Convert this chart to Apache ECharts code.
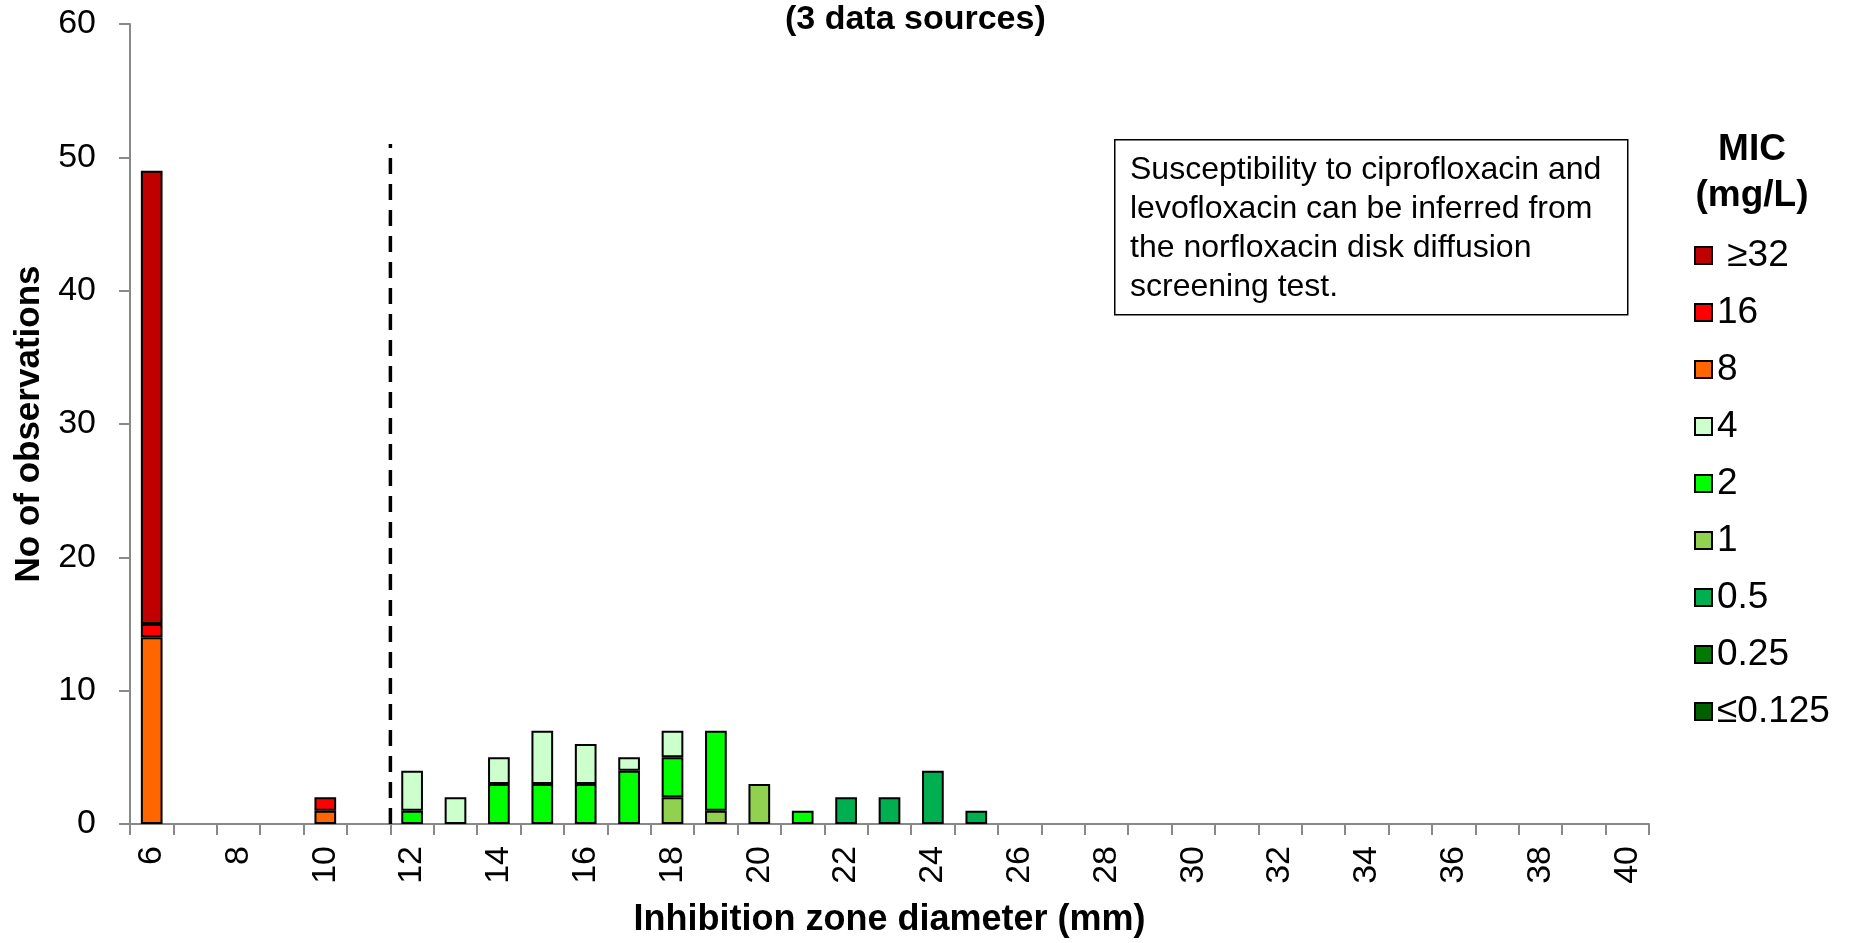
<!DOCTYPE html>
<html>
<head>
<meta charset="utf-8">
<script src="https://cdn.jsdelivr.net/npm/echarts@6/dist/echarts.min.js"></script>
<style>html,body{margin:0;padding:0;background:#fff}#c{width:1852px;height:943px}</style>
</head>
<body>
<div id="c"></div>
<script>
// ---- data ----
const categories = ['6','7','8','9','10','11','12','13','14','15','16','17','18','19','20','21','22','23','24','25','26','27','28','29','30','31','32','33','34','35','36','37','38','39','40'];
const micNames = ['≤0.125','0.25','0.5','1','2','4','8','16','≥32'];   // stacking order bottom -> top
const micColors = ['#006000','#007A00','#00B050','#92D050','#00FF00','#CCFFCC','#FF6600','#FF0000','#C00000'];
//                     6 7 8 9 10 11 12 13 14 15 16 17 18 19 20 21 22 23 24 25 26-40
const mic_le0125 = [0,0,0,0,0, 0, 0, 0, 0, 0, 0, 0, 0, 0, 0, 0, 0, 0, 0, 0, 0,0,0,0,0,0,0,0,0,0,0,0,0,0,0];
const mic_025    = [0,0,0,0,0, 0, 0, 0, 0, 0, 0, 0, 0, 0, 0, 0, 0, 0, 0, 0, 0,0,0,0,0,0,0,0,0,0,0,0,0,0,0];
const mic_05     = [0,0,0,0,0, 0, 0, 0, 0, 0, 0, 0, 0, 0, 0, 0, 2, 2, 4, 1, 0,0,0,0,0,0,0,0,0,0,0,0,0,0,0];
const mic_1      = [0,0,0,0,0, 0, 0, 0, 0, 0, 0, 0, 2, 1, 3, 0, 0, 0, 0, 0, 0,0,0,0,0,0,0,0,0,0,0,0,0,0,0];
const mic_2      = [0,0,0,0,0, 0, 1, 0, 3, 3, 3, 4, 3, 6, 0, 1, 0, 0, 0, 0, 0,0,0,0,0,0,0,0,0,0,0,0,0,0,0];
const mic_4      = [0,0,0,0,0, 0, 3, 2, 2, 4, 3, 1, 2, 0, 0, 0, 0, 0, 0, 0, 0,0,0,0,0,0,0,0,0,0,0,0,0,0,0];
const mic_8      = [14,0,0,0,1,0, 0, 0, 0, 0, 0, 0, 0, 0, 0, 0, 0, 0, 0, 0, 0,0,0,0,0,0,0,0,0,0,0,0,0,0,0];
const mic_16     = [1,0,0,0,1, 0, 0, 0, 0, 0, 0, 0, 0, 0, 0, 0, 0, 0, 0, 0, 0,0,0,0,0,0,0,0,0,0,0,0,0,0,0];
const mic_ge32   = [34,0,0,0,0,0, 0, 0, 0, 0, 0, 0, 0, 0, 0, 0, 0, 0, 0, 0, 0,0,0,0,0,0,0,0,0,0,0,0,0,0,0];
const micValues = [mic_le0125, mic_025, mic_05, mic_1, mic_2, mic_4, mic_8, mic_16, mic_ge32];
const yTicks = [0, 60, 10]; // min, max, interval
const breakpointX = 11.5;   // zone diameter breakpoint (between 11 and 12 mm)
const breakpointTop = 51;
const titleText = '(3 data sources)';
const noteText = 'Susceptibility to ciprofloxacin and\nlevofloxacin can be inferred from\nthe norfloxacin disk diffusion\nscreening test.';

// ---- chart ----
const FF = '"Liberation Sans", Arial, Helvetica, sans-serif';
const AX = '#898989';
const chart = echarts.init(document.getElementById('c'), null, {renderer: 'canvas'});

const barSeries = micNames.map((n, i) => ({
  name: n, type: 'bar', stack: 'mic', xAxisIndex: 0, yAxisIndex: 0,
  barWidth: '50%',
  itemStyle: {color: micColors[i], borderColor: '#000', borderWidth: 2},
  emphasis: {disabled: true},
  data: micValues[i].map(v => v === 0 ? '-' : v)
}));

const option = {
  animation: false,
  textStyle: {fontFamily: FF},
  title: {
    text: titleText, left: 785, top: 3, padding: 0,
    textStyle: {fontFamily: FF, fontSize: 34, fontWeight: 'bold', color: '#000'}
  },
  grid: {left: 130, right: 203, top: 24, bottom: 115, containLabel: false},
  legend: {
    orient: 'vertical', left: 1689, top: 232, itemGap: 20,
    itemWidth: 17, itemHeight: 17, icon: 'rect',
    data: micNames.slice().reverse(),
    formatter: n => n === '≥32' ? ' ' + n : n,
    textStyle: {fontFamily: FF, fontSize: 37, color: '#000'},
    selectedMode: false
  },
  xAxis: [{
    type: 'category', data: categories, boundaryGap: true,
    name: 'Inhibition zone diameter (mm)', nameLocation: 'middle', nameGap: 78,
    nameTextStyle: {fontFamily: FF, fontSize: 36, fontWeight: 'bold', color: '#000'},
    axisLine: {lineStyle: {color: AX, width: 2}},
    axisTick: {show: true, interval: 0, alignWithLabel: false, length: 11, lineStyle: {color: AX, width: 2}},
    axisLabel: {interval: 1, rotate: 90, margin: 22, fontFamily: FF, fontSize: 34, color: '#000'},
    splitLine: {show: false}
  }, {
    type: 'value', min: 5.5, max: 40.5, show: false, gridIndex: 0
  }],
  yAxis: {
    type: 'value', min: yTicks[0], max: yTicks[1], interval: yTicks[2],
    name: 'No of observations', nameLocation: 'middle', nameGap: 82, nameRotate: 90,
    nameTextStyle: {fontFamily: FF, fontSize: 35, fontWeight: 'bold', color: '#000'},
    axisLine: {show: true, lineStyle: {color: AX, width: 2}},
    axisTick: {show: true, length: 11, lineStyle: {color: AX, width: 2}},
    axisLabel: {margin: 34, fontFamily: FF, fontSize: 34, color: '#000'},
    splitLine: {show: false}
  },
  series: barSeries.concat([{
    type: 'line', xAxisIndex: 1, yAxisIndex: 0, symbol: 'none', silent: true,
    lineStyle: {color: '#000', width: 3.5, type: [16, 10]},
    data: [[breakpointX, 0], [breakpointX, breakpointTop]]
  }]),
  graphic: [
    {type: 'rect', left: 1114, top: 139, shape: {width: 513, height: 175},
     style: {fill: '#fff', stroke: '#000', lineWidth: 1.5}, z: 10},
    {type: 'text', left: 1130, top: 151, z: 11,
     style: {text: noteText, font: '32px ' + FF, fill: '#000', lineHeight: 39}},
    {type: 'text', x: 1752, y: 150, z: 11,
     style: {text: 'MIC', font: 'bold 37px ' + FF, fill: '#000', textAlign: 'center', textVerticalAlign: 'middle'}},
    {type: 'text', x: 1752, y: 196, z: 11,
     style: {text: '(mg/L)', font: 'bold 37px ' + FF, fill: '#000', textAlign: 'center', textVerticalAlign: 'middle'}}
  ]
};
chart.setOption(option);
</script>
</body>
</html>
